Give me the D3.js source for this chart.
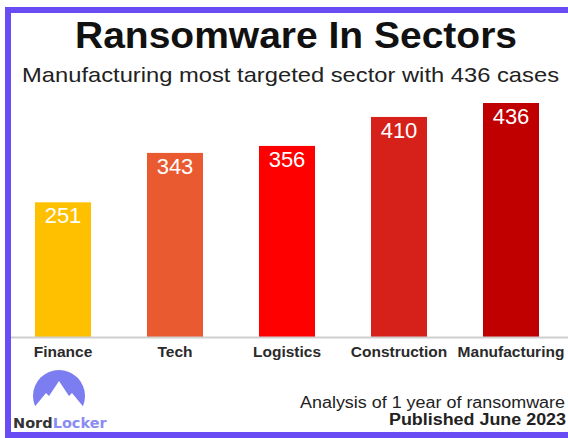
<!DOCTYPE html>
<html>
<head>
<meta charset="utf-8">
<script src="https://cdn.jsdelivr.net/npm/d3@7"></script>
<style>
  html, body { margin: 0; padding: 0; background: #fff; overflow: hidden; }
  svg { display: block; }
  text { font-family: "Liberation Sans", Arial, sans-serif; }
</style>
</head>
<body>
<div id="chart"></div>
<script>
// Data
const sectors = ["Finance", "Tech", "Logistics", "Construction", "Manufacturing"];
const cases = [251, 343, 356, 410, 436];
const barColors = ["#ffc000", "#ea5a30", "#ff0000", "#d6201a", "#c00000"];

const width = 568;
const height = 438;
const baseY = 337;

const svg = d3.select("#chart").append("svg")
    .attr("width", width)
    .attr("height", height);

// Purple frame: left, top and bottom edges only (right runs off the picture)
svg.append("path")
    .attr("d", `M${width},10 H8 V435 H${width}`)
    .attr("fill", "none")
    .attr("stroke", "#6a4cf5")
    .attr("stroke-width", 6);

// Title + subtitle (slightly wide lettering, as in the source image)
svg.append("text")
    .attr("x", 75).attr("y", 48)
    .attr("font-size", 36)
    .attr("font-weight", "bold")
    .attr("fill", "#111")
    .attr("textLength", 442)
    .attr("lengthAdjust", "spacingAndGlyphs")
    .text("Ransomware In Sectors");

svg.append("text")
    .attr("x", 22).attr("y", 82)
    .attr("font-size", 21)
    .attr("fill", "#222")
    .attr("textLength", 537)
    .attr("lengthAdjust", "spacingAndGlyphs")
    .text("Manufacturing most targeted sector with 436 cases");

// Scales
const x = d3.scaleBand()
    .domain(sectors)
    .range([7, 567])
    .paddingInner(0.5)
    .paddingOuter(0.25);

const y = d3.scaleLinear()
    .domain([0, 436])
    .range([baseY, 103]);

const rows = sectors.map((s, i) => ({ sector: s, value: cases[i], color: barColors[i] }));

// Bars
svg.append("g").selectAll("rect")
    .data(rows)
    .join("rect")
    .attr("x", d => x(d.sector))
    .attr("y", d => y(d.value))
    .attr("width", x.bandwidth())
    .attr("height", d => y(0) - y(d.value))
    .attr("fill", d => d.color);

// Value labels inside the bar tops
svg.append("g").selectAll("text")
    .data(rows)
    .join("text")
    .attr("x", d => x(d.sector) + x.bandwidth() / 2)
    .attr("y", d => y(d.value) + 21)
    .attr("text-anchor", "middle")
    .attr("font-size", 22)
    .attr("fill", "#fff")
    .text(d => d.value);

// Baseline
svg.append("line")
    .attr("x1", 11).attr("x2", width)
    .attr("y1", baseY + 0.5).attr("y2", baseY + 0.5)
    .attr("stroke", "#cfcfcf")
    .attr("stroke-width", 2);

// Category axis labels
const xAxis = svg.append("g")
    .attr("transform", `translate(0, ${baseY})`)
    .call(d3.axisBottom(x).tickSize(0).tickPadding(9));
xAxis.select(".domain").remove();
xAxis.selectAll("text")
    .attr("font-size", 15.5)
    .attr("font-weight", "bold")
    .attr("font-family", "Liberation Sans, Arial, sans-serif")
    .attr("fill", "#2a2a2a");

// Footer
svg.append("text")
    .attr("x", 300).attr("y", 408)
    .attr("font-size", 16)
    .attr("fill", "#222")
    .attr("textLength", 265)
    .attr("lengthAdjust", "spacingAndGlyphs")
    .text("Analysis of 1 year of ransomware");

svg.append("text")
    .attr("x", 389).attr("y", 425)
    .attr("font-size", 16)
    .attr("font-weight", "bold")
    .attr("fill", "#222")
    .attr("textLength", 177)
    .attr("lengthAdjust", "spacingAndGlyphs")
    .text("Published June 2023");

// NordLocker logo: dome with mountain cut-out
const logo = svg.append("g");
logo.append("clipPath").attr("id", "dome-clip")
    .append("rect").attr("x", 30).attr("y", 365).attr("width", 60).attr("height", 44);
logo.append("circle")
    .attr("cx", 59).attr("cy", 396).attr("r", 26)
    .attr("fill", "#7b7df0")
    .attr("clip-path", "url(#dome-clip)");
logo.append("path")
    .attr("d", "M32,410 L46,393 L49,396 L59,381 L69,396 L72,393 L86,410 Z")
    .attr("fill", "#fff");

const brand = svg.append("text")
    .attr("x", 13).attr("y", 428)
    .attr("font-size", 14.5)
    .attr("font-weight", "bold")
    .style("font-family", "DejaVu Sans, sans-serif");
brand.append("tspan").attr("fill", "#333").text("Nord");
brand.append("tspan").attr("fill", "#8a8cf2").text("Locker");
</script>
</body>
</html>
